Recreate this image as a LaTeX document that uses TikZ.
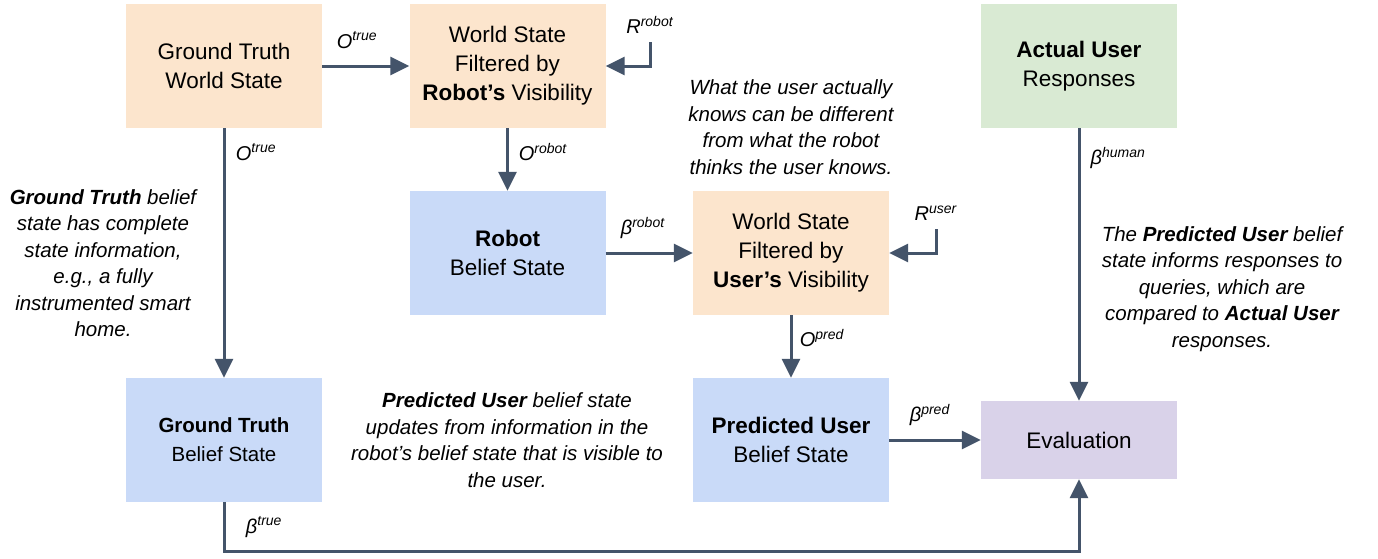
\documentclass[tikz,border=0pt]{standalone}
\usepackage{fontspec}
\setmainfont{Liberation Sans}
\usetikzlibrary{arrows.meta}
\definecolor{peach}{HTML}{FCE5CD}
\definecolor{bluebox}{HTML}{C9DAF8}
\definecolor{greenbox}{HTML}{D9EAD3}
\definecolor{purplebox}{HTML}{D9D2E9}
\definecolor{arrowc}{HTML}{44546A}
\newcommand{\lbl}[2]{\textit{#1}\textsuperscript{\textit{#2}}}
\begin{document}
\begin{tikzpicture}[x=1pt,y=-1pt,
  box/.style={minimum width=196pt, minimum height=124pt, inner sep=0pt, align=center,
    font=\fontsize{22.5}{29}\selectfont},
  arr/.style={draw=arrowc, line width=3pt, -{Triangle[length=19pt,width=18pt]}},
  ann/.style={align=center, inner sep=0pt, font=\fontsize{20.5}{26.5}\selectfont\itshape},
  lab/.style={inner sep=0pt, font=\fontsize{20}{24}\selectfont}]
\useasboundingbox (0,0) rectangle (1378,558);
\fill[white] (0,0) rectangle (1378,558);
% boxes
\node[box, fill=peach] (gtws) at (224,66) {Ground Truth\\World State};
\node[box, fill=peach] (wsr) at (507.5,66) {World State\\Filtered by\\\textbf{Robot’s} Visibility};
\node[box, fill=greenbox] (actual) at (1079,66) {\textbf{Actual User}\\Responses};
\node[box, fill=bluebox] (robot) at (507.5,253) {\textbf{Robot}\\Belief State};
\node[box, fill=peach] (wsu) at (791,253) {World State\\Filtered by\\\textbf{User’s} Visibility};
\node[box, fill=bluebox, font=\fontsize{20.5}{29}\selectfont] (gtb) at (224,440) {\textbf{Ground Truth}\\Belief State};
\node[box, fill=bluebox] (pred) at (791,440) {\textbf{Predicted User}\\Belief State};
\node[box, fill=purplebox, minimum height=78pt] (eval) at (1079,440) {Evaluation};
% connectors
\coordinate (rrobot) at (650,42);
\coordinate (ruser) at (936,229);
\draw[arr] (gtws.east) -- (wsr.west);
\draw[arr] (rrobot) |- (wsr.east);
\draw[arr] (wsr.south) -- (robot.north);
\draw[arr] (gtws.south) -- (gtb.north);
\draw[arr] (robot.east) -- (wsu.west);
\draw[arr] (ruser) |- (wsu.east);
\draw[arr] (wsu.south) -- (pred.north);
\draw[arr] (pred.east) -- (eval.west);
\draw[arr] (actual.south) -- (eval.north);
\draw[arr] (gtb.south) -- ++(0,49) -| (eval.south);
% connector labels
\node[lab] (l1) at (357,40) {\lbl{O}{true}};
\node[lab] (l2) at (650,25) {\lbl{R}{robot}};
\node[lab] (l3) at (543,152) {\lbl{O}{robot}};
\node[lab] (l4) at (256,152) {\lbl{O}{true}};
\node[lab] (l5) at (643,228) {\lbl{β}{robot}};
\node[lab] (l6) at (936,213) {\lbl{R}{user}};
\node[lab] (l7) at (822,338) {\lbl{O}{pred}};
\node[lab] (l8) at (930,415) {\lbl{β}{pred}};
\node[lab] (l9) at (1118,158) {\lbl{β}{human}};
\node[lab] (l10) at (264,527) {\lbl{β}{true}};
% annotations
\node[ann] (a1) at (791,127) {What the user actually\\knows can be different\\from what the robot\\thinks the user knows.};
\node[ann] (a2) at (103,263) {\textbf{Ground Truth} belief\\state has complete\\state information,\\e.g., a fully\\instrumented smart\\home.};
\node[ann] (a3) at (507,440) {\textbf{Predicted User} belief state\\updates from information in the\\robot’s belief state that is visible to\\the user.};
\node[ann] (a4) at (1222,289) {The \textbf{Predicted User} belief\\state informs responses to\\queries, which are\\compared to \textbf{Actual User}\\responses.};
\end{tikzpicture}
\end{document}
